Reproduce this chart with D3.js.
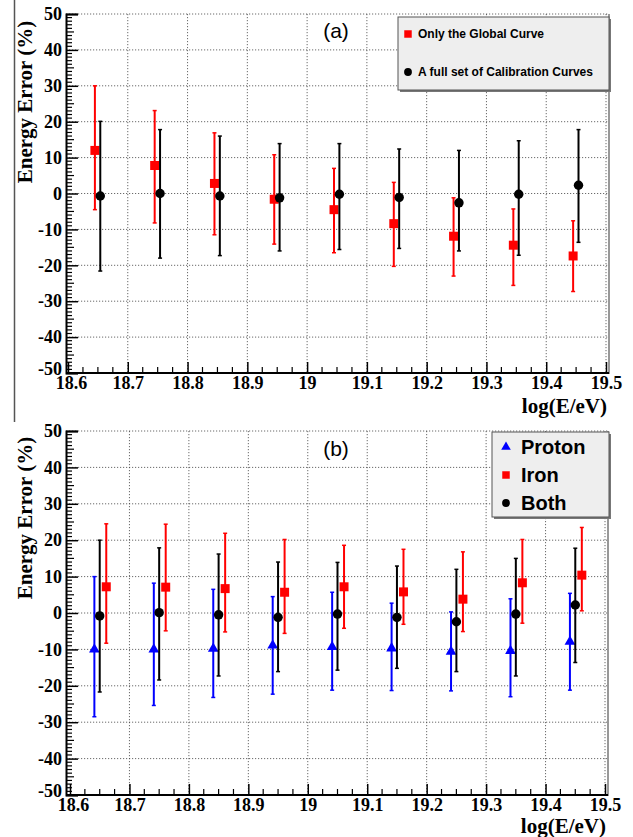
<!DOCTYPE html>
<html><head><meta charset="utf-8">
<script src="https://cdn.jsdelivr.net/npm/d3@7/dist/d3.min.js"></script>
<style>html,body{margin:0;padding:0;background:#fff;}svg{display:block;}</style>
</head><body>
<svg id="chart" width="633" height="837"></svg>
<script>
// ---- data ----
const bins = [18.65, 18.75, 18.85, 18.95, 19.05, 19.15, 19.25, 19.35, 19.45];
const xTicks = [18.6, 18.7, 18.8, 18.9, 19.0, 19.1, 19.2, 19.3, 19.4, 19.5];
const xTickLabels = ["18.6","18.7","18.8","18.9","19","19.1","19.2","19.3","19.4","19.5"];
const yTicks = [-50, -40, -30, -20, -10, 0, 10, 20, 30, 40, 50];

// panel (a)
const globalVal = [12.0, 7.8, 2.8, -1.6, -4.5, -8.4, -11.9, -14.4, -17.4];
const globalHi  = [30.0, 23.1, 16.9, 10.8, 7.0, 3.1, -1.2, -4.3, -7.6];
const globalLo  = [-4.5, -8.2, -11.5, -14.1, -16.5, -20.3, -23.0, -25.6, -27.3];
const fullVal = [-0.7, 0.0, -0.7, -1.2, -0.2, -1.1, -2.6, -0.2, 2.3];
const fullHi  = [20.1, 17.8, 16.0, 13.9, 13.9, 12.4, 12.0, 14.7, 17.8];
const fullLo  = [-21.6, -18.0, -17.3, -16.0, -15.6, -15.3, -16.0, -17.2, -13.6];

// panel (b)
const protonVal = [-10.0, -10.0, -9.8, -8.9, -9.3, -9.7, -10.6, -10.4, -7.9];
const protonHi  = [10.0, 8.2, 6.5, 4.5, 5.7, 2.7, 0.3, 3.9, 5.4];
const protonLo  = [-28.5, -25.4, -23.2, -22.3, -21.2, -21.3, -21.4, -23.0, -21.2];
const ironVal = [7.2, 7.1, 6.7, 5.7, 7.2, 5.8, 3.8, 8.3, 10.4];
const ironHi  = [24.5, 24.4, 21.9, 20.2, 18.6, 17.5, 16.8, 20.2, 23.5];
const ironLo  = [-8.3, -4.9, -5.2, -5.6, -4.2, -3.1, -5.1, -2.8, 0.6];
const bothVal = [-0.8, 0.1, -0.5, -1.2, -0.3, -1.2, -2.4, -0.3, 2.2];
const bothHi  = [20.0, 17.9, 16.2, 14.0, 13.9, 12.9, 12.0, 15.0, 17.8];
const bothLo  = [-21.7, -18.4, -17.3, -16.1, -15.7, -15.2, -16.1, -17.3, -13.6];

// ---- drawing ----
const svg = d3.select("#chart");
const serif = "'Liberation Serif','Times New Roman',serif";
const sans = "'Liberation Sans',Arial,Helvetica,sans-serif";

// left page border line in the scan
svg.append("line").attr("x1",14.5).attr("x2",14.5).attr("y1",0).attr("y2",422)
  .attr("stroke","#555").attr("stroke-width",1.5);

function panel(cfg) {
  const x = d3.scaleLinear().domain([18.6, 19.5]).range(cfg.xr);
  const y = d3.scaleLinear().domain([-50, 50]).range(cfg.yr);
  const g = svg.append("g");
  const left = cfg.axisX, right = x(19.5) + 3;
  const top = y(50), bottom = y(-50);

  // grid
  g.selectAll(".gx").data(xTicks.slice(1)).join("line")
    .attr("x1", d => x(d)).attr("x2", d => x(d)).attr("y1", top).attr("y2", bottom)
    .attr("stroke", "#444").attr("stroke-width", 0.8).attr("stroke-dasharray", "1.2,1.8");
  g.selectAll(".gy").data(yTicks.slice(1)).join("line")
    .attr("x1", left).attr("x2", right).attr("y1", d => y(d)).attr("y2", d => y(d))
    .attr("stroke", "#444").attr("stroke-width", 0.8).attr("stroke-dasharray", "1.2,1.8");

  // frame right (gray)
  g.append("line").attr("x1", right).attr("x2", right).attr("y1", top).attr("y2", bottom + 1)
    .attr("stroke", "#999").attr("stroke-width", 2);

  // y axis
  const yAxis = d3.axisLeft(y).tickValues(yTicks).tickSize(-12).tickFormat(d => d).tickPadding(4);
  const ya = g.append("g").attr("transform", `translate(${left},0)`).call(yAxis);
  ya.select(".domain").attr("stroke", "#000").attr("stroke-width", 2);
  ya.selectAll(".tick line").attr("stroke", "#000").attr("stroke-width", 1.5);
  ya.selectAll(".tick text").attr("font-family", serif).attr("font-weight", "bold")
    .attr("font-size", 18).attr("fill", "#000")
    .attr("dy", d => d === -50 ? "0.1em" : "0.32em");
  const yMinor = d3.range(-50, 51, 1).filter(v => v % 10 !== 0);
  g.selectAll(".ym").data(yMinor).join("line")
    .attr("x1", left).attr("x2", d => left + (d % 5 === 0 ? 8 : 6)).attr("y1", d => y(d)).attr("y2", d => y(d))
    .attr("stroke", "#000").attr("stroke-width", 1.2);

  // x axis
  const xAxis = d3.axisBottom(x).tickValues(xTicks).tickSize(-11).tickFormat((d, i) => xTickLabels[i]).tickPadding(5);
  const xa = g.append("g").attr("transform", `translate(0,${bottom})`).call(xAxis);
  xa.select(".domain").remove();
  g.append("line").attr("x1", left).attr("x2", right).attr("y1", bottom).attr("y2", bottom)
    .attr("stroke", "#000").attr("stroke-width", 2);
  xa.selectAll(".tick line").attr("stroke", "#000").attr("stroke-width", 1.5);
  xa.selectAll(".tick text").attr("font-family", serif).attr("font-weight", "bold")
    .attr("font-size", 18).attr("fill", "#000").attr("dy", "0.62em")
    .attr("dx", (d, i) => i === 0 ? 3 : 0);
  const xMinor = d3.range(0, 36).map(i => 18.6 + i * 0.025).filter((v, i) => i % 4 !== 0);
  g.selectAll(".xm").data(xMinor).join("line")
    .attr("x1", d => x(d)).attr("x2", d => x(d)).attr("y1", bottom).attr("y2", bottom - 6)
    .attr("stroke", "#000").attr("stroke-width", 1.2);

  // axis titles
  g.append("text").attr("transform", `translate(${cfg.yTitleX},${cfg.yTitleY}) rotate(-90)`)
    .attr("text-anchor", "middle").attr("font-family", serif).attr("font-weight", "bold")
    .attr("font-size", 21).attr("fill", "#000").text("Energy Error (%)");
  g.append("text").attr("x", right - 2).attr("y", cfg.xTitleY).attr("text-anchor", "end")
    .attr("font-family", serif).attr("font-weight", "bold").attr("font-size", 21)
    .attr("fill", "#000").text("log(E/eV)");

  // panel label
  g.append("text").attr("x", cfg.labX).attr("y", cfg.labY).attr("text-anchor", "middle")
    .attr("font-family", sans).attr("font-size", 21).attr("fill", "#000").text(cfg.label);

  // series
  cfg.series.forEach(s => {
    const sg = g.append("g");
    const pts = bins.map((b, i) => ({ x: b + s.dx, v: s.val[i], hi: s.hi[i], lo: s.lo[i] }));
    sg.selectAll(".eb").data(pts).join("line")
      .attr("x1", d => x(d.x)).attr("x2", d => x(d.x)).attr("y1", d => y(d.hi)).attr("y2", d => y(d.lo))
      .attr("stroke", s.color).attr("stroke-width", 2);
    ["hi", "lo"].forEach(k => {
      sg.selectAll(".cap" + k).data(pts).join("line")
        .attr("x1", d => x(d.x) - 2).attr("x2", d => x(d.x) + 2).attr("y1", d => y(d[k])).attr("y2", d => y(d[k]))
        .attr("stroke", s.color).attr("stroke-width", 1.5);
    });
    sg.selectAll(".m").data(pts).join("path")
      .attr("transform", d => `translate(${x(d.x)},${y(d.v)})`)
      .attr("d", s.symbol).attr("fill", s.color);
  });

  // legend
  const L = cfg.legend;
  g.append("rect").attr("x", L.x + 2).attr("y", L.y + 2).attr("width", L.w).attr("height", L.h).attr("fill", "#777");
  g.append("rect").attr("x", L.x).attr("y", L.y).attr("width", L.w).attr("height", L.h)
    .attr("fill", "#eeeeee").attr("stroke", "#555").attr("stroke-width", 1);
  L.items.forEach((it, i) => {
    const cy = L.y + L.first + i * L.step;
    g.append("path").attr("transform", `translate(${L.x + L.mx},${cy})`).attr("d", it.symbol).attr("fill", it.color);
    g.append("text").attr("x", L.x + L.tx).attr("y", cy).attr("dy", "0.36em")
      .attr("font-family", sans).attr("font-weight", "bold").attr("font-size", L.fs)
      .attr("fill", "#000").text(it.name);
  });
}

const sq = d3.symbol().type(d3.symbolSquare).size(81)();
const ci = d3.symbol().type(d3.symbolCircle).size(70)();
const tri = d3.symbol().type(d3.symbolTriangle).size(50)();
const sqS = d3.symbol().type(d3.symbolSquare).size(56)();
const ciS = d3.symbol().type(d3.symbolCircle).size(48)();
const triS = d3.symbol().type(d3.symbolTriangle).size(40)();

panel({
  xr: [68, 606], yr: [373, 14], axisX: 66,
  yTitleX: 32, yTitleY: 102, xTitleY: 413, labX: 336, labY: 38, label: "(a)",
  series: [
    { val: globalVal, hi: globalHi, lo: globalLo, dx: -0.005, color: "#ff0000", symbol: sq },
    { val: fullVal, hi: fullHi, lo: fullLo, dx: 0.004, color: "#000", symbol: ci }
  ],
  legend: { x: 398, y: 17, w: 211, h: 73, first: 17, step: 38, mx: 10, tx: 20, fs: 12,
    items: [ { name: "Only the Global Curve", color: "#ff0000", symbol: sqS },
             { name: "A full set of Calibration Curves", color: "#000", symbol: ciS } ] }
});

panel({
  xr: [70, 605], yr: [795, 431], axisX: 66,
  yTitleX: 32, yTitleY: 518, xTitleY: 833, labX: 336, labY: 456, label: "(b)",
  series: [
    { val: protonVal, hi: protonHi, lo: protonLo, dx: -0.009, color: "#0000ff", symbol: tri },
    { val: ironVal, hi: ironHi, lo: ironLo, dx: 0.011, color: "#ff0000", symbol: sq },
    { val: bothVal, hi: bothHi, lo: bothLo, dx: 0.0, color: "#000", symbol: ci }
  ],
  legend: { x: 492, y: 432, w: 117, h: 85, first: 15, step: 28, mx: 14, tx: 29, fs: 20,
    items: [ { name: "Proton", color: "#0000ff", symbol: triS },
             { name: "Iron", color: "#ff0000", symbol: sqS },
             { name: "Both", color: "#000", symbol: ciS } ] }
});
</script>
</body></html>
